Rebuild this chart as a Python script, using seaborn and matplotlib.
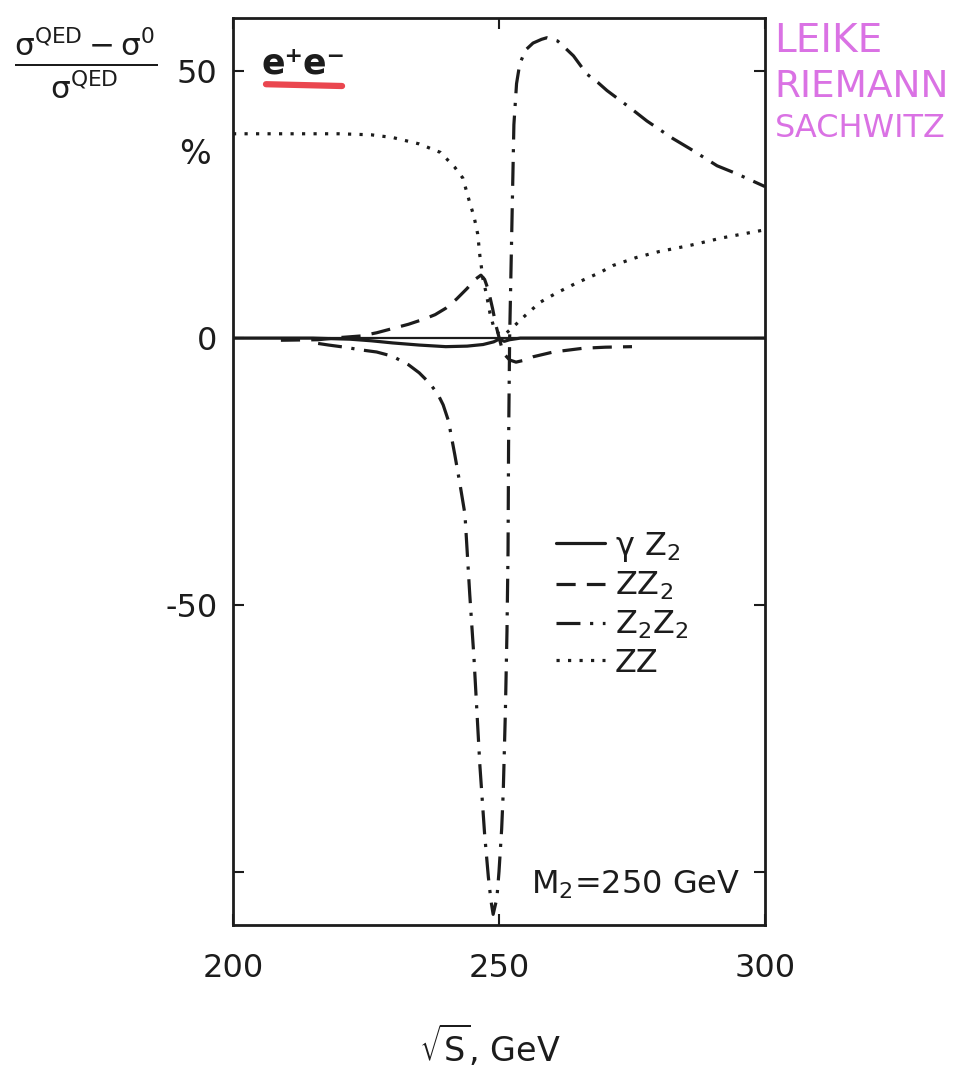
import matplotlib
matplotlib.use("Agg")
import matplotlib.pyplot as plt
from matplotlib.lines import Line2D
import numpy as np
import pandas as pd
import seaborn as sns

# --- curve readings: sqrt(s) in GeV, relative deviation in % ---
s_gz2 = [200, 215, 222, 226, 230, 235, 240, 244, 247, 249, 250, 251, 252, 254, 300]
v_gz2 = [0, 0, -0.2, -0.5, -0.9, -1.3, -1.6, -1.5, -1.2, -0.7, -0.2, -0.6, -0.3, 0, 0]

s_zz2 = [209, 216, 220, 224, 227, 230, 233, 236, 238, 240, 242, 244, 245.5, 246.6,
         247.3, 248, 248.8, 249.4, 250.2, 250.8, 252, 253.2, 254.5, 256.4, 260.2,
         265.8, 270, 275]
v_zz2 = [-0.4, -0.3, 0.1, 0.4, 1.0, 1.8, 2.6, 3.6, 4.4, 5.6, 7.3, 9.3, 11.0, 11.8,
         11.0, 9.0, 5.5, 2.5, -0.6, -2.8, -4.1, -4.5, -4.2, -3.5, -2.6,
         -1.9, -1.7, -1.6]

s_z2z2 = [216, 218, 221, 224, 227, 230, 233, 235, 237, 238.5, 239.5, 240.5, 241.7, 242.6,
          243.6, 244.5, 245.3, 246.4, 247.3, 248, 248.5, 248.9, 249.6, 250.0, 250.5,
          250.8, 251.2, 251.5, 251.7, 251.8, 252.0, 252.2, 252.5, 252.8, 253.3, 253.9,
          255, 256.4, 258, 259, 261, 262, 264, 266.5, 268.6, 270.3, 274.6, 277.8,
          282.7, 285.9, 291, 294.7, 300]
v_z2z2 = [-1.0, -1.3, -1.7, -2.2, -2.6, -3.4, -5.0, -6.5, -8.5, -10.5, -12.5, -15.5, -21.9, -27,
          -33, -48, -60, -80, -93, -101, -105.5, -108, -105, -100, -92,
          -85, -70, -55, -40, -20, 0, 10, 25, 40, 47.7, 51.4,
          54, 55.3, 56, 56.3, 55.7, 54.8, 52.9, 49.5, 47.9, 46.4, 43.2, 40.7,
          37.4, 35.5, 32.3, 30.8, 28.4]

s_zz = [200, 210, 220, 226, 230, 235, 239, 241.7, 243.2, 244.5, 245.3, 246, 246.4, 247,
        247.6, 248.3, 249, 250, 251, 252, 253.2, 255, 257.7, 260.7, 264.5, 269, 271.4,
        275.8, 280, 286, 292, 300]
v_zz = [38.3, 38.3, 38.3, 38.1, 37.6, 36.4, 34.8, 32, 30, 25.4, 22.8, 19.5, 15.5, 11,
        8.4, 4.7, 2.1, 0.8, 0.6, 1.5, 2.6, 4.3, 6.7, 8.4, 10.3, 12.3, 13.6,
        15.1, 16.2, 17.4, 18.8, 20.3]

curve_names = ["gZ2", "ZZ2", "Z2Z2", "ZZ"]
legend_labels = [r"$\gamma$ Z$_2$", r"ZZ$_2$", r"Z$_2$Z$_2$", r"ZZ"]

x_ticks = [200, 250, 300]
y_ticks = [-100, -50, 0, 50]
y_ticklabels = ["", "-50", "0", "50"]

df = pd.concat([
    pd.DataFrame({"s": s_gz2, "v": v_gz2, "curve": "gZ2"}),
    pd.DataFrame({"s": s_zz2, "v": v_zz2, "curve": "ZZ2"}),
    pd.DataFrame({"s": s_z2z2, "v": v_z2z2, "curve": "Z2Z2"}),
    pd.DataFrame({"s": s_zz, "v": v_zz, "curve": "ZZ"}),
], ignore_index=True)

sns.set_theme(style="ticks")
plt.rcParams["font.family"] = ["DejaVu Sans"]
plt.rcParams["mathtext.default"] = "regular"
plt.rcParams["axes.unicode_minus"] = False

ink = "#1c1c1c"
lw = 2.3
dash_map = {"gZ2": "", "ZZ2": (6, 3.5), "Z2Z2": (7.5, 3, 1, 3), "ZZ": (1, 2.6)}

fig = plt.figure(figsize=(9.79, 10.77), dpi=100)
ax = fig.add_axes([0.238, 0.1411, 0.5434, 0.8422])

ax.axhline(0, color=ink, lw=1.6, zorder=1)
sns.lineplot(data=df, x="s", y="v", style="curve", style_order=curve_names,
             dashes=dash_map, color=ink, linewidth=lw, estimator=None,
             legend=False, ax=ax, zorder=2)

ax.set_xlim(200, 300)
ax.set_ylim(-110, 60)
ax.set_xticks(x_ticks)
ax.set_xticklabels([str(t) for t in x_ticks])
ax.set_yticks(y_ticks)
ax.set_yticklabels(y_ticklabels)
ax.set_xlabel("")
ax.set_ylabel("")
ax.tick_params(axis="both", direction="in", length=8, width=1.5, colors=ink,
               labelsize=23, top=True, right=True)
ax.tick_params(axis="x", pad=20)
ax.tick_params(axis="y", pad=11)
for sp in ax.spines.values():
    sp.set_visible(True)
    sp.set_linewidth(2.0)
    sp.set_color(ink)

# legend
handles = []
for name in curve_names:
    d = dash_map[name]
    if d == "":
        handles.append(Line2D([], [], color=ink, lw=lw, linestyle="-"))
    else:
        handles.append(Line2D([], [], color=ink, lw=lw, dashes=d))
leg = ax.legend(handles, legend_labels, loc="upper left",
                bbox_to_anchor=(0.583, 0.45), frameon=False, fontsize=23,
                handlelength=1.55, handletextpad=0.3, labelspacing=0.2,
                borderaxespad=0)
for t in leg.get_texts():
    t.set_color(ink)

# in-panel annotations
ax.text(0.133, 0.95, "e\u207ae\u207b", transform=ax.transAxes, ha="center",
        va="center", fontsize=25, color=ink, fontweight="bold")
ax.plot([0.062, 0.205], [0.927, 0.925], transform=ax.transAxes,
        color="#e8323c", lw=4.5, solid_capstyle="round", alpha=0.9)
ax.text(0.56, 0.035, r"M$_2$=250 GeV", transform=ax.transAxes, ha="left",
        va="baseline", fontsize=23, color=ink)

# axis titles
fig.text(0.088, 0.942, r"$\frac{\sigma^{QED}-\sigma^{0}}{\sigma^{QED}}$",
         ha="center", va="center", fontsize=32, color=ink)
fig.text(0.199, 0.857, "%", ha="center", va="center", fontsize=24, color=ink)
fig.text(0.5, 0.03, r"$\sqrt{S}$, GeV", ha="center", va="center",
         fontsize=24, color=ink)

# authors
author_names = ["LEIKE", "RIEMANN", "SACHWITZ"]
author_sizes = [28, 27, 23]
author_y = [0.962, 0.919, 0.881]
for name, fs, yy in zip(author_names, author_sizes, author_y):
    fig.text(0.791, yy, name, ha="left", va="center",
             fontsize=fs, color="#da72e4")

fig.savefig("out.png", dpi=100)
